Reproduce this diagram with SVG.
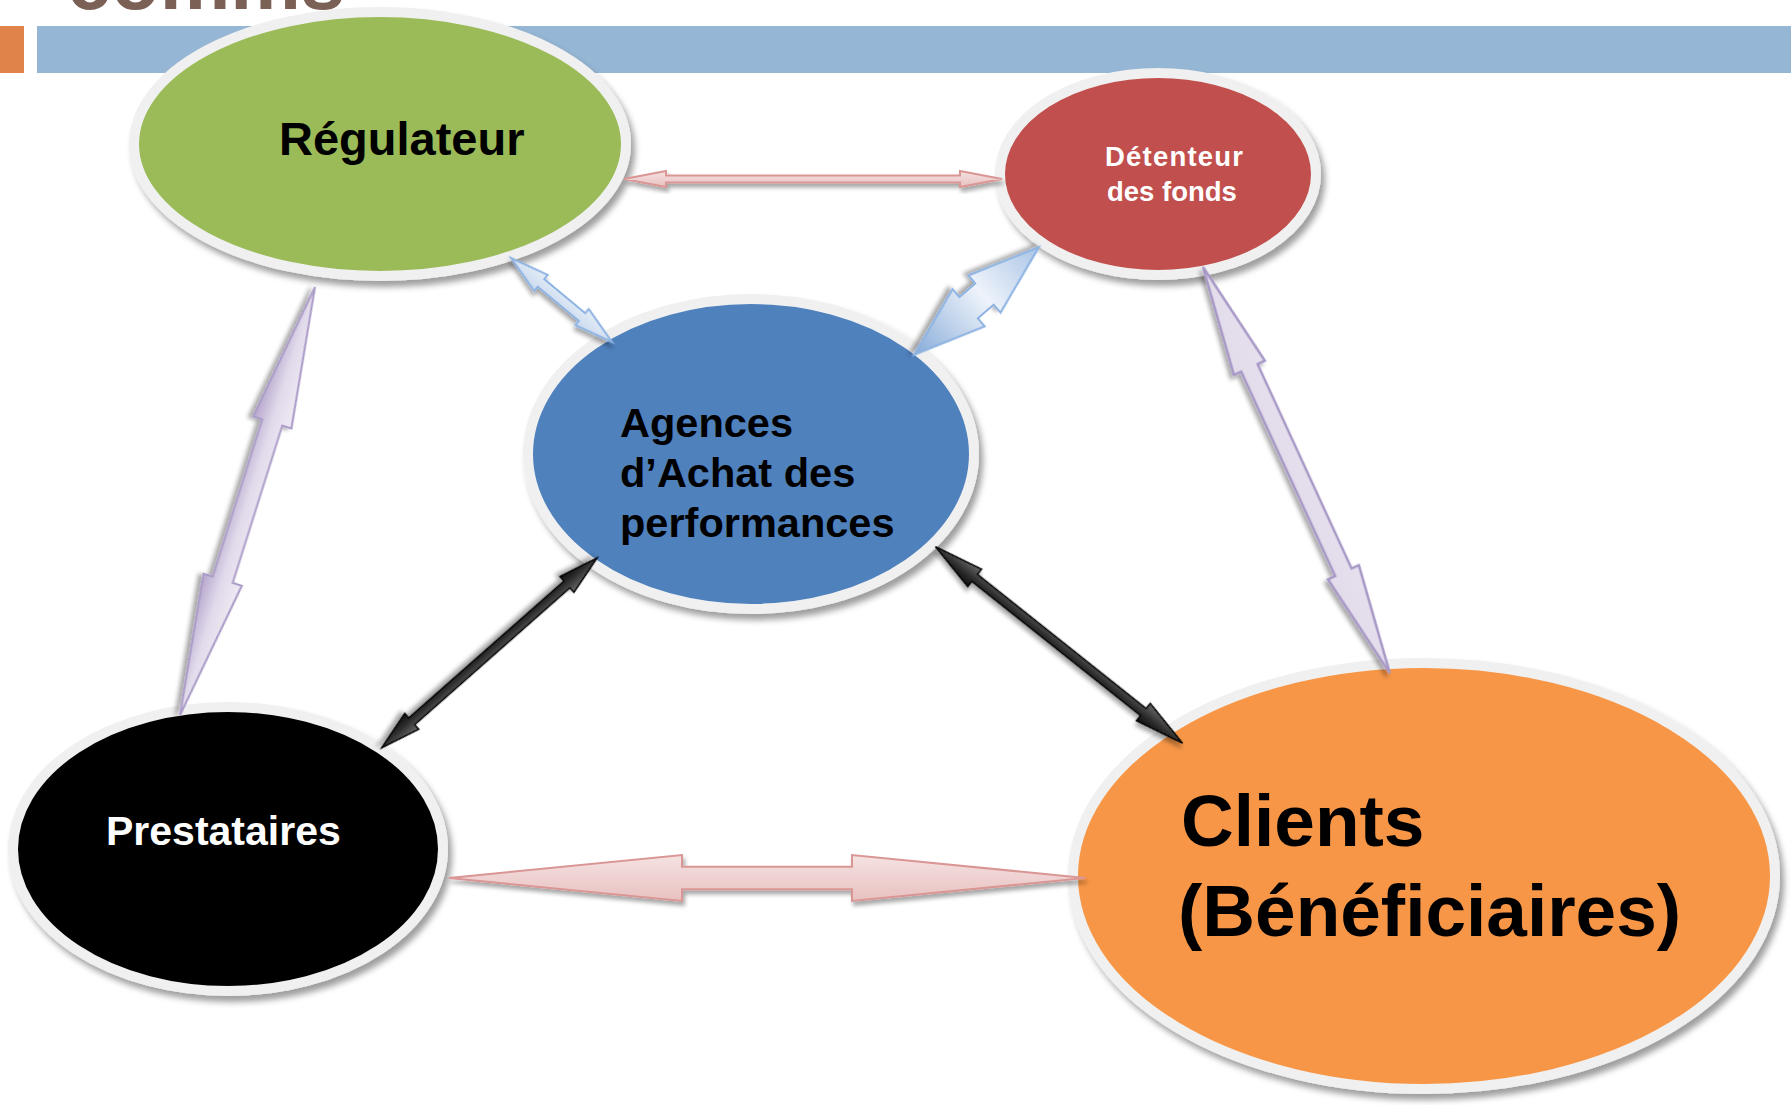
<svg xmlns="http://www.w3.org/2000/svg" width="1791" height="1105" viewBox="0 0 1791 1105">
<defs>
<filter id="sh" x="-10%" y="-10%" width="125%" height="130%">
<feDropShadow dx="4" dy="6" stdDeviation="3" flood-color="#000" flood-opacity="0.38"/>
</filter>
<filter id="ash" x="-20%" y="-40%" width="140%" height="180%">
<feDropShadow dx="2" dy="4" stdDeviation="2" flood-color="#000" flood-opacity="0.35"/>
</filter>
<linearGradient id="gPink" x1="0" y1="0" x2="0" y2="1">
<stop offset="0" stop-color="#f5e2e2"/><stop offset="1" stop-color="#e8c1c0"/>
</linearGradient>
<linearGradient id="gPurple" x1="0" y1="0" x2="0" y2="1">
<stop offset="0" stop-color="#efeaf4"/><stop offset="0.5" stop-color="#e1daeb"/><stop offset="1" stop-color="#b6a6cc"/>
</linearGradient>
<linearGradient id="gLav" x1="0" y1="0" x2="0" y2="1">
<stop offset="0" stop-color="#e6e0ee"/><stop offset="1" stop-color="#e2dbea"/>
</linearGradient>
<linearGradient id="gDark" x1="0" y1="0" x2="0" y2="1">
<stop offset="0" stop-color="#6a6a6a"/><stop offset="0.6" stop-color="#2a2a2a"/><stop offset="1" stop-color="#111"/>
</linearGradient>
<linearGradient id="gBlue1" x1="0" y1="0" x2="0" y2="1">
<stop offset="0" stop-color="#e6eef8"/><stop offset="1" stop-color="#c9d9ee"/>
</linearGradient>
<linearGradient id="gBlue2" x1="0" y1="0" x2="1" y2="0">
<stop offset="0" stop-color="#a9c4e7"/><stop offset="0.45" stop-color="#eef3fa"/><stop offset="1" stop-color="#88acd9"/>
</linearGradient>
</defs>
<style>
.ring{stroke:#f0f0f0;stroke-width:10;filter:url(#sh)}
.lbl{font-family:"Liberation Sans",Arial,sans-serif;font-weight:bold}
.pink{fill:url(#gPink);stroke:#d99694;stroke-width:2;filter:url(#ash)}
.purple{fill:url(#gPurple);stroke:#ab9bc8;stroke-width:2;filter:url(#ash)}
.lav{fill:url(#gLav);stroke:#a898c6;stroke-width:2.5;filter:url(#ash)}
.dark{fill:url(#gDark);stroke:#000;stroke-width:1.5;filter:url(#ash)}
.blue1{fill:url(#gBlue1);stroke:#8db3e2;stroke-width:2;filter:url(#ash)}
.blue2{fill:url(#gBlue2);stroke:#8db3e2;stroke-width:2;filter:url(#ash)}
</style>
<rect width="1791" height="1105" fill="#fff"/>
<g id="header">
<text x="67" y="9" class="lbl" font-size="80" fill="#7a6055" textLength="278" lengthAdjust="spacingAndGlyphs">comms</text>
<rect x="0" y="26" width="24" height="47" fill="#e0834a"/>
<rect x="37" y="26" width="1754" height="47" fill="#95b6d4"/>
</g>
<g id="regulateur">
<ellipse cx="380" cy="144" rx="246" ry="132" fill="#9bbb59" class="ring"/>
<text x="279" y="155" class="lbl" font-size="47" fill="#000">Régulateur</text>
</g>
<g id="detenteur">
<ellipse cx="1158" cy="174" rx="158" ry="101" fill="#c0504d" class="ring"/>
<text x="1105" y="166" class="lbl" font-size="27.5" fill="#fff" letter-spacing="1.2">Détenteur</text>
<text x="1107" y="201" class="lbl" font-size="27.5" fill="#fff">des fonds</text>
</g>
<g id="agences">
<ellipse cx="751" cy="454" rx="223" ry="155" fill="#4f81bd" class="ring"/>
<text class="lbl" font-size="41.5" fill="#000"><tspan x="620" y="437">Agences</tspan><tspan x="620" y="487">d’Achat des</tspan><tspan x="620" y="537">performances</tspan></text>
</g>
<g id="prestataires">
<ellipse cx="228" cy="849" rx="215" ry="142" fill="#000" class="ring"/>
<text x="106" y="845" class="lbl" font-size="41" fill="#fff">Prestataires</text>
</g>
<g id="clients">
<ellipse cx="1424" cy="876" rx="351" ry="213" fill="#f79646" class="ring"/>
<text class="lbl" font-size="73" fill="#000"><tspan x="1181" y="846">Clients</tspan><tspan x="1178" y="936">(Bénéficiaires)</tspan></text>
</g>
<g id="connectors">
<path class="pink" transform="translate(624,179)" d="M0,0 L42,-8 L42,-3.5 L336,-3.5 L336,-8 L378,0 L336,8 L336,3.5 L42,3.5 L42,8 Z"/>
<path class="blue1" transform="translate(511,258) rotate(39.75)" d="M0,0 L39,-10.5 L39,-5 L92.4,-5 L92.4,-10.5 L131.4,0 L92.4,10.5 L92.4,5 L39,5 L39,10.5 Z"/>
<path class="blue2" transform="translate(1039,247) rotate(139.2)" d="M0,0 L72,-24.5 L72,-14 L93,-14 L93,-24.5 L165,0 L93,24.5 L93,14 L72,14 L72,24.5 Z"/>
<path class="purple" transform="translate(315,287) rotate(107.5)" d="M0,0 L142,-20 L142,-10.5 L307,-10.5 L307,-20 L449,0 L307,20 L307,10.5 L142,10.5 L142,20 Z"/>
<path class="lav" transform="translate(1203,267) rotate(65.3)" d="M0,0 L111,-17 L111,-9 L336,-9 L336,-17 L447,0 L336,17 L336,9 L111,9 L111,17 Z"/>
<path class="dark" transform="translate(597,558) rotate(138.6)" d="M0,0 L40,-10.5 L40,-4.5 L247,-4.5 L247,-10.5 L287,0 L247,10.5 L247,4.5 L40,4.5 L40,10.5 Z"/>
<path class="dark" transform="translate(935.5,546.7) rotate(38.5)" d="M0,0 L50,-11 L50,-4.5 L265.6,-4.5 L265.6,-11 L315.6,0 L265.6,11 L265.6,4.5 L50,4.5 L50,11 Z"/>
<path class="pink" transform="translate(449,878)" d="M0,0 L233,-23 L233,-11.3 L403,-11.3 L403,-23 L636,0 L403,23 L403,11.3 L233,11.3 L233,23 Z"/>
</g>
</svg>
